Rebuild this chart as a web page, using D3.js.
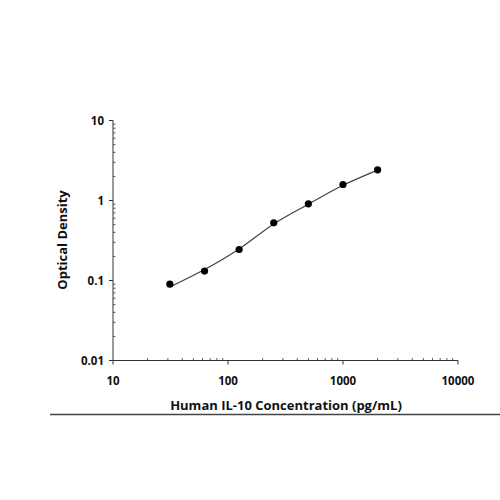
<!DOCTYPE html>
<html><head><meta charset="utf-8">
<script src="https://cdn.jsdelivr.net/npm/d3@7"></script>
<style>body{margin:0;background:#fff}</style>
</head><body>
<svg id="c" width="500" height="500"></svg>
<script>
const concentrations = [31.25, 62.5, 125, 250, 500, 1000, 2000];
const odValues = [0.090, 0.131, 0.244, 0.526, 0.909, 1.585, 2.42];
const curveX = [31.25, 62.5, 125, 250, 500, 1000, 2000];
const curveY = [0.083, 0.137, 0.248, 0.51, 0.90, 1.55, 2.40];
const xTicks = [10, 100, 1000, 10000];
const yTicks = [0.01, 0.1, 1, 10];
const yTickLabels = ["0.01", "0.1", "1", "10"];
const xTitle = "Human IL-10 Concentration (pg/mL)";
const yTitle = "Optical Density";

const svg = d3.select("#c");
const x = d3.scaleLog().domain([10, 10000]).range([113, 458]);
const y = d3.scaleLog().domain([0.01, 10]).range([360.5, 120.5]);
const font = "'Open Sans', sans-serif";
const axisColor = "#333";

function minorTicks(dom) {
  const out = [];
  for (let d = dom[0]; d < dom[1]; d *= 10)
    for (let k = 2; k <= 9; k++) out.push(d * k);
  return out;
}

// y axis
const gy = svg.append("g");
gy.append("line").attr("x1", 113).attr("x2", 113).attr("y1", y(10)).attr("y2", y(0.01)).attr("stroke", axisColor).attr("stroke-width", 1);
gy.selectAll(".ymaj").data(yTicks).join("line").attr("x1", 109).attr("x2", 113).attr("y1", d => y(d)).attr("y2", d => y(d)).attr("stroke", axisColor);
gy.selectAll(".ymin").data(minorTicks([0.01, 10])).join("line").attr("x1", 113).attr("x2", 115.5).attr("y1", d => y(d)).attr("y2", d => y(d)).attr("stroke", axisColor).attr("stroke-width", 0.8);
gy.selectAll(".ylab").data(yTicks).join("text").attr("x", 104).attr("y", d => y(d)).attr("dy", "0.35em").attr("text-anchor", "end")
  .attr("font-family", font).attr("font-weight", "bold").attr("font-size", 11.5).attr("fill", "#111").text((d, i) => yTickLabels[i]);

// x axis
const gx = svg.append("g");
gx.append("line").attr("x1", x(10)).attr("x2", x(10000)).attr("y1", 360.5).attr("y2", 360.5).attr("stroke", axisColor);
gx.selectAll(".xmaj").data(xTicks).join("line").attr("x1", d => x(d)).attr("x2", d => x(d)).attr("y1", 360.5).attr("y2", 364.5).attr("stroke", axisColor);
gx.selectAll(".xmin").data(minorTicks([10, 10000])).join("line").attr("x1", d => x(d)).attr("x2", d => x(d)).attr("y1", 358).attr("y2", 360.5).attr("stroke", axisColor).attr("stroke-width", 0.8);
gx.selectAll(".xlab").data(xTicks).join("text").attr("x", d => x(d)).attr("y", 385).attr("text-anchor", "middle")
  .attr("font-family", font).attr("font-weight", "bold").attr("font-size", 11.5).attr("fill", "#111").text(d => String(d));

// titles
svg.append("text").attr("x", 286).attr("y", 410).attr("text-anchor", "middle").attr("font-family", font).attr("font-weight", "bold").attr("font-size", 13).attr("fill", "#111").text(xTitle);
svg.append("text").attr("transform", "translate(67,240) rotate(-90)").attr("text-anchor", "middle").attr("font-family", font).attr("font-weight", "bold").attr("font-size", 13).attr("fill", "#111").text(yTitle);

// rule
svg.append("line").attr("x1", 50).attr("x2", 500).attr("y1", 414.5).attr("y2", 414.5).attr("stroke", "#444").attr("stroke-width", 1.3);

// curve
const line = d3.line().x(d => x(d[0])).y(d => y(d[1])).curve(d3.curveCatmullRom.alpha(0.5));
svg.append("path").datum(curveX.map((c, i) => [c, curveY[i]])).attr("d", line).attr("fill", "none").attr("stroke", "#444").attr("stroke-width", 1.2);

// points
svg.selectAll(".pt").data(concentrations).join("circle").attr("cx", d => x(d)).attr("cy", (d, i) => y(odValues[i])).attr("r", 3.6).attr("fill", "#000");
</script>
</body></html>
